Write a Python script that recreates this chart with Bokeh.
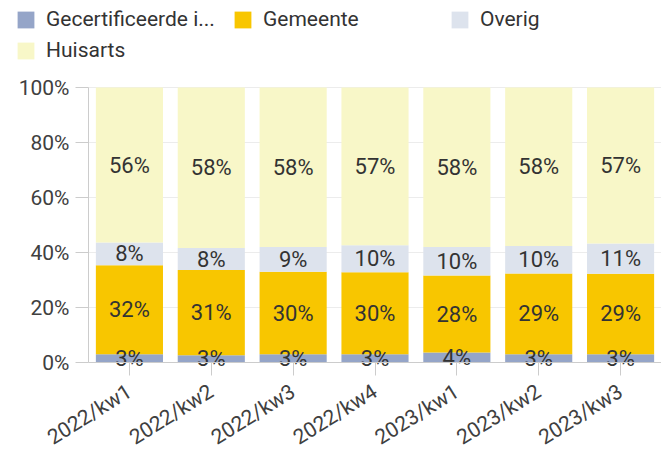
import math
from bokeh.plotting import figure
from bokeh.models import ColumnDataSource, Range1d, Legend, LegendItem, CustomJSTickFormatter
from bokeh.core.properties import value
from bokeh.embed import file_html
from bokeh.resources import INLINE

weeks = ["2022/kw1", "2022/kw2", "2022/kw3", "2022/kw4", "2023/kw1", "2023/kw2", "2023/kw3"]
series = ["Gecertificeerde i...", "Gemeente", "Overig", "Huisarts"]
gecertificeerd = [3.0, 2.6, 3.0, 3.0, 3.6, 3.0, 3.0]
gemeente = [32.4, 31.0, 30.0, 29.8, 28.0, 29.4, 29.3]
overig = [8.2, 8.0, 9.0, 9.8, 10.4, 10.0, 11.0]
huisarts = [56.4, 58.4, 58.0, 57.4, 58.0, 57.6, 56.7]
colors = ["#95a5c8", "#f8c600", "#dde3ed", "#f8f7c8"]
yticks = [0, 20, 40, 60, 80, 100]

FONT = "Roboto"
W, H = 661, 454
AXIS_X = 88          # screen x of the y axis
TOP_Y = 87           # screen y of the 100% line
ZERO_Y = 362         # screen y of the 0% line
values = [gecertificeerd, gemeente, overig, huisarts]
keys = ["s0", "s1", "s2", "s3"]
n = len(weeks)
idx = list(range(n))

data = {"xi": idx}
for k, v in zip(keys, values):
    data[k] = v
src = ColumnDataSource(data)

x_start = -0.5 - AXIS_X * n / (W - AXIS_X)
px_per_pct = (ZERO_Y - TOP_Y) / 100
y_end = 100 + TOP_Y / px_per_pct
y_start = -(H - ZERO_Y) / px_per_pct

p = figure(x_range=Range1d(x_start, n - 0.5), y_range=Range1d(y_start, y_end), width=W, height=H,
           output_backend="svg", toolbar_location=None, min_border_left=0,
           min_border_top=0, min_border_right=0, min_border_bottom=0)
p.grid.visible = False
p.outline_line_color = None

# horizontal grid lines across the bar area
p.segment(x0=[-0.5] * len(yticks), x1=[n - 0.5] * len(yticks), y0=yticks, y1=yticks,
          line_color="#ececec", line_width=1)

renderers = p.vbar_stack(keys, x="xi", width=0.82, color=colors, source=src, line_color=None)

# value labels
lx, ly, lt = [], [], []
for i in idx:
    base = 0.0
    for v in values:
        lx.append(i)
        ly.append(base + v[i] / 2)
        lt.append(f"{round(v[i])}%")
        base += v[i]
p.text(x=lx, y=ly, text=lt, text_align="center", text_baseline="middle",
       text_font=value(FONT), text_font_size="22px", text_color="#333333")

p.yaxis.ticker = yticks
p.yaxis.formatter = CustomJSTickFormatter(code="return tick + '%'")
p.yaxis.fixed_location = -0.5
p.yaxis.bounds = (0, 100)
p.xaxis.ticker = idx
p.xaxis.major_label_overrides = {i: w for i, w in zip(idx, weeks)}
p.xaxis.fixed_location = 0
p.xaxis.bounds = (-0.5, n - 0.5)
for ax in (p.xaxis[0], p.yaxis[0]):
    ax.axis_line_color = "#cccccc"
    ax.major_tick_line_color = "#cccccc"
    ax.minor_tick_line_color = None
    ax.major_tick_in = 0
    ax.major_tick_out = 13
    ax.major_label_text_font = FONT
    ax.major_label_text_font_size = "21px"
    ax.major_label_text_color = "#404040"
p.yaxis.major_label_standoff = 6
p.xaxis.major_label_standoff = 14
p.xaxis.major_label_orientation = math.radians(32)

items = [LegendItem(label=name, renderers=[r]) for name, r in zip(series, renderers)]
legend = Legend(items=items, location=(15, H - 57 - 5), orientation="horizontal", ncols=3,
                border_line_color=None, background_fill_alpha=0, padding=0, margin=0,
                glyph_width=21, glyph_height=21, label_standoff=10, label_width=179,
                label_height=21, spacing=7, label_text_font=FONT,
                label_text_font_size="21px", label_text_color="#333333")
p.add_layout(legend, "center")

open("out.html", "w").write(file_html(p, INLINE))
